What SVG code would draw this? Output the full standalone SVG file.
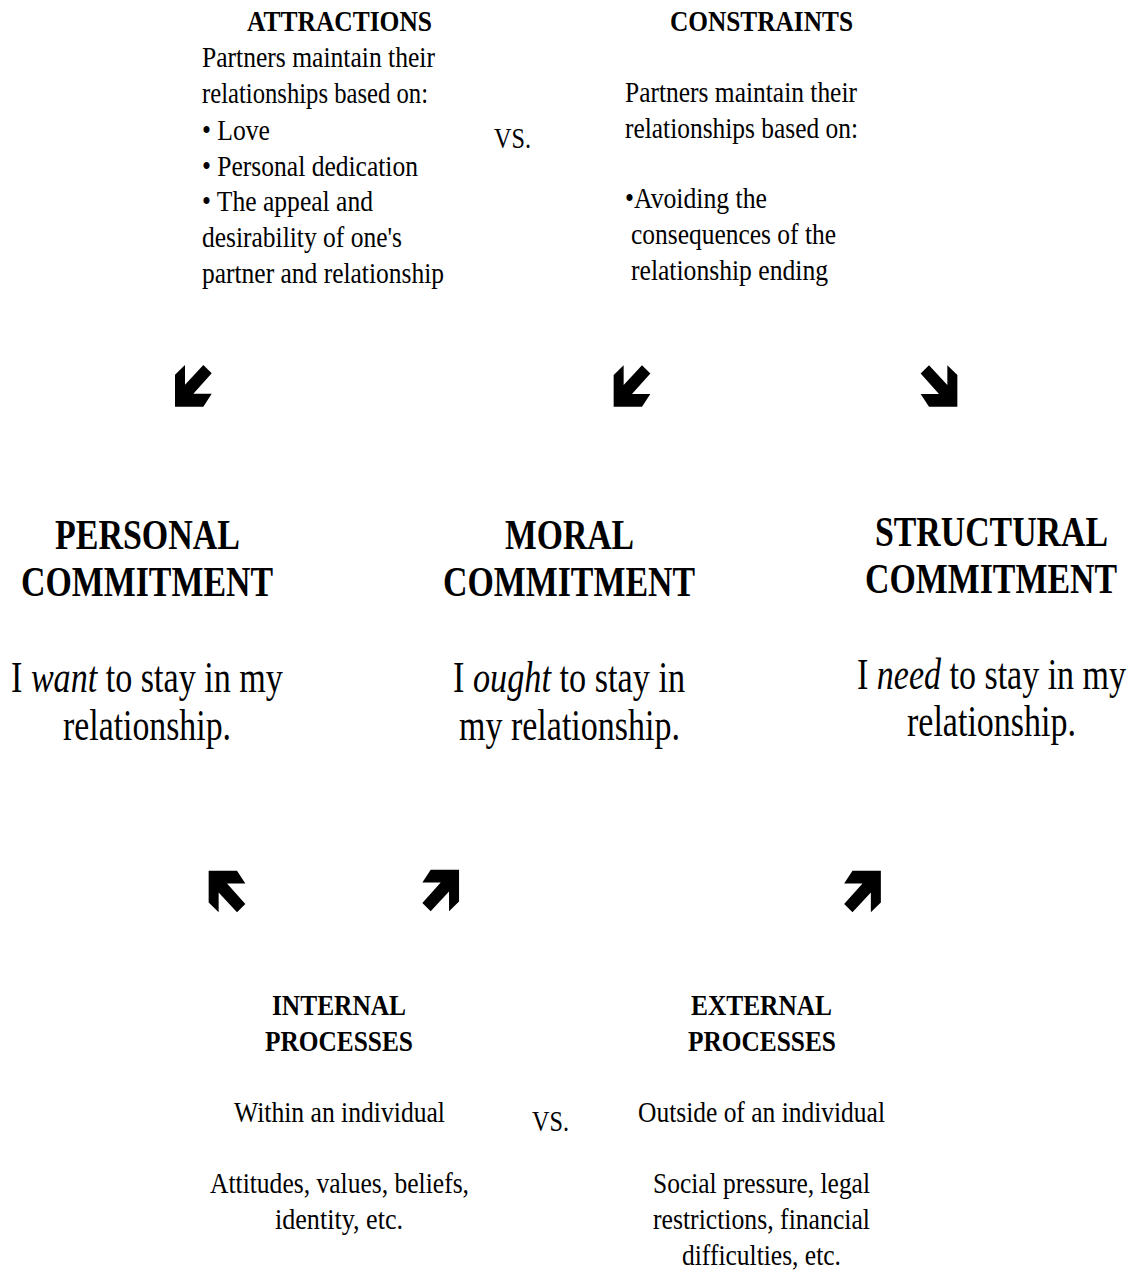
<svg xmlns="http://www.w3.org/2000/svg" width="1137" height="1271" viewBox="0 0 1137 1271">
<style>
.h{font-family:"Liberation Serif","Times New Roman",serif;font-weight:bold;fill:#000}
.b{font-family:"Liberation Serif","Times New Roman",serif;fill:#000}
.i{font-style:italic}
.th{font-size:25.2px}
.tb{font-size:25.5px}
.mh{font-size:34px}
.mb{font-size:34.1px}
.bh{font-size:25.4px}
.arrow{fill:#000}
</style>
<defs>
<path id="arr" d="M-8.35,-20.85 L-8.35,-1 L10,-20.85 L18.35,-12.5 L0,8 L18.35,8 L10,20.85 L-18.35,20.85 L-18.35,-11 Z"/>
</defs>
<rect width="1137" height="1271" fill="#fff"/>

<g id="attractions">
<text class="h th" x="247" y="31" transform="matrix(1,0,0,1.14,0,-4.34)" textLength="185" lengthAdjust="spacingAndGlyphs">ATTRACTIONS</text>
<text class="b tb" x="202" y="67" transform="matrix(1,0,0,1.14,0,-9.38)" textLength="233" lengthAdjust="spacingAndGlyphs">Partners maintain their</text>
<text class="b tb" x="202" y="103" transform="matrix(1,0,0,1.14,0,-14.42)" textLength="226" lengthAdjust="spacingAndGlyphs">relationships based on:</text>
<text class="b tb" x="202" y="140" transform="matrix(1,0,0,1.14,0,-19.6)" textLength="68" lengthAdjust="spacingAndGlyphs">• Love</text>
<text class="b tb" x="202" y="176" transform="matrix(1,0,0,1.14,0,-24.64)" textLength="216" lengthAdjust="spacingAndGlyphs">• Personal dedication</text>
<text class="b tb" x="202" y="211" transform="matrix(1,0,0,1.14,0,-29.54)" textLength="171" lengthAdjust="spacingAndGlyphs">• The appeal and</text>
<text class="b tb" x="202" y="247" transform="matrix(1,0,0,1.14,0,-34.58)" textLength="200" lengthAdjust="spacingAndGlyphs">desirability of one's</text>
<text class="b tb" x="202" y="283" transform="matrix(1,0,0,1.14,0,-39.62)" textLength="242" lengthAdjust="spacingAndGlyphs">partner and relationship</text>
</g>

<g id="vs-top">
<text class="b tb" x="494" y="148" transform="matrix(1,0,0,1.14,0,-20.72)" textLength="37" lengthAdjust="spacingAndGlyphs">VS.</text>
</g>

<g id="constraints">
<text class="h th" x="670" y="31" transform="matrix(1,0,0,1.14,0,-4.34)" textLength="183" lengthAdjust="spacingAndGlyphs">CONSTRAINTS</text>
<text class="b tb" x="625" y="102" transform="matrix(1,0,0,1.14,0,-14.28)" textLength="232" lengthAdjust="spacingAndGlyphs">Partners maintain their</text>
<text class="b tb" x="625" y="138" transform="matrix(1,0,0,1.14,0,-19.32)" textLength="233" lengthAdjust="spacingAndGlyphs">relationships based on:</text>
<text class="b tb" x="625" y="208" transform="matrix(1,0,0,1.14,0,-29.12)" textLength="142" lengthAdjust="spacingAndGlyphs">•Avoiding the</text>
<text class="b tb" x="631" y="244" transform="matrix(1,0,0,1.14,0,-34.16)" textLength="205" lengthAdjust="spacingAndGlyphs">consequences of the</text>
<text class="b tb" x="631" y="280" transform="matrix(1,0,0,1.14,0,-39.2)" textLength="197" lengthAdjust="spacingAndGlyphs">relationship ending</text>
</g>

<g id="personal-commitment">
<text class="h mh" x="55" y="549" transform="matrix(1,0,0,1.21,0,-115.29)" textLength="185" lengthAdjust="spacingAndGlyphs">PERSONAL</text>
<text class="h mh" x="21" y="596" transform="matrix(1,0,0,1.21,0,-125.16)" textLength="252" lengthAdjust="spacingAndGlyphs">COMMITMENT</text>
<text class="b mb" x="11" y="692" transform="matrix(1,0,0,1.32,0,-221.44)">I</text>
<text class="b mb i" x="30.9" y="692" transform="matrix(1,0,0,1.32,0,-221.44)" textLength="66.3" lengthAdjust="spacingAndGlyphs">want</text>
<text class="b mb" x="105.7" y="692" transform="matrix(1,0,0,1.32,0,-221.44)" textLength="177.2" lengthAdjust="spacingAndGlyphs">to stay in my</text>
<text class="b mb" x="63" y="740" transform="matrix(1,0,0,1.32,0,-236.8)" textLength="168" lengthAdjust="spacingAndGlyphs">relationship.</text>
</g>

<g id="moral-commitment">
<text class="h mh" x="505" y="549" transform="matrix(1,0,0,1.21,0,-115.29)" textLength="129" lengthAdjust="spacingAndGlyphs">MORAL</text>
<text class="h mh" x="443" y="596" transform="matrix(1,0,0,1.21,0,-125.16)" textLength="252" lengthAdjust="spacingAndGlyphs">COMMITMENT</text>
<text class="b mb" x="453" y="692" transform="matrix(1,0,0,1.32,0,-221.44)">I</text>
<text class="b mb i" x="473" y="692" transform="matrix(1,0,0,1.32,0,-221.44)" textLength="78" lengthAdjust="spacingAndGlyphs">ought</text>
<text class="b mb" x="559.6" y="692" transform="matrix(1,0,0,1.32,0,-221.44)" textLength="125.5" lengthAdjust="spacingAndGlyphs">to stay in</text>
<text class="b mb" x="459" y="740" transform="matrix(1,0,0,1.32,0,-236.8)" textLength="221" lengthAdjust="spacingAndGlyphs">my relationship.</text>
</g>

<g id="structural-commitment">
<text class="h mh" x="875" y="546" transform="matrix(1,0,0,1.21,0,-114.66)" textLength="233" lengthAdjust="spacingAndGlyphs">STRUCTURAL</text>
<text class="h mh" x="865" y="593" transform="matrix(1,0,0,1.21,0,-124.53)" textLength="252" lengthAdjust="spacingAndGlyphs">COMMITMENT</text>
<text class="b mb" x="857" y="689" transform="matrix(1,0,0,1.32,0,-220.48)">I</text>
<text class="b mb i" x="876.8" y="689" transform="matrix(1,0,0,1.32,0,-220.48)" textLength="64.2" lengthAdjust="spacingAndGlyphs">need</text>
<text class="b mb" x="949.5" y="689" transform="matrix(1,0,0,1.32,0,-220.48)" textLength="176.5" lengthAdjust="spacingAndGlyphs">to stay in my</text>
<text class="b mb" x="907" y="736" transform="matrix(1,0,0,1.32,0,-235.52)" textLength="169" lengthAdjust="spacingAndGlyphs">relationship.</text>
</g>

<g id="internal-processes">
<text class="h bh" x="272" y="1015" transform="matrix(1,0,0,1.14,0,-142.1)" textLength="134" lengthAdjust="spacingAndGlyphs">INTERNAL</text>
<text class="h bh" x="265" y="1051" transform="matrix(1,0,0,1.14,0,-147.14)" textLength="148" lengthAdjust="spacingAndGlyphs">PROCESSES</text>
<text class="b tb" x="234" y="1122" transform="matrix(1,0,0,1.14,0,-157.08)" textLength="211" lengthAdjust="spacingAndGlyphs">Within an individual</text>
<text class="b tb" x="210" y="1193" transform="matrix(1,0,0,1.14,0,-167.02)" textLength="259" lengthAdjust="spacingAndGlyphs">Attitudes, values, beliefs,</text>
<text class="b tb" x="275" y="1229" transform="matrix(1,0,0,1.14,0,-172.06)" textLength="128" lengthAdjust="spacingAndGlyphs">identity, etc.</text>
</g>

<g id="vs-bottom">
<text class="b tb" x="532" y="1131" transform="matrix(1,0,0,1.14,0,-158.34)" textLength="37" lengthAdjust="spacingAndGlyphs">VS.</text>
</g>

<g id="external-processes">
<text class="h bh" x="691" y="1015" transform="matrix(1,0,0,1.14,0,-142.1)" textLength="141" lengthAdjust="spacingAndGlyphs">EXTERNAL</text>
<text class="h bh" x="688" y="1051" transform="matrix(1,0,0,1.14,0,-147.14)" textLength="148" lengthAdjust="spacingAndGlyphs">PROCESSES</text>
<text class="b tb" x="638" y="1122" transform="matrix(1,0,0,1.14,0,-157.08)" textLength="247" lengthAdjust="spacingAndGlyphs">Outside of an individual</text>
<text class="b tb" x="653" y="1193" transform="matrix(1,0,0,1.14,0,-167.02)" textLength="217" lengthAdjust="spacingAndGlyphs">Social pressure, legal</text>
<text class="b tb" x="653" y="1229" transform="matrix(1,0,0,1.14,0,-172.06)" textLength="217" lengthAdjust="spacingAndGlyphs">restrictions, financial</text>
<text class="b tb" x="682" y="1265" transform="matrix(1,0,0,1.14,0,-177.1)" textLength="159" lengthAdjust="spacingAndGlyphs">difficulties, etc.</text>
</g>

<g id="connectors">
<use href="#arr" class="arrow" transform="translate(193.35,385.85)"/>
<use href="#arr" class="arrow" transform="translate(632,386)"/>
<use href="#arr" class="arrow" transform="translate(939,386) scale(-1,1)"/>
<use href="#arr" class="arrow" transform="translate(227,891.5) scale(1,-1)"/>
<use href="#arr" class="arrow" transform="translate(440.7,890.5) scale(-1,-1)"/>
<use href="#arr" class="arrow" transform="translate(862.5,891.5) scale(-1,-1)"/>
</g>
</svg>
